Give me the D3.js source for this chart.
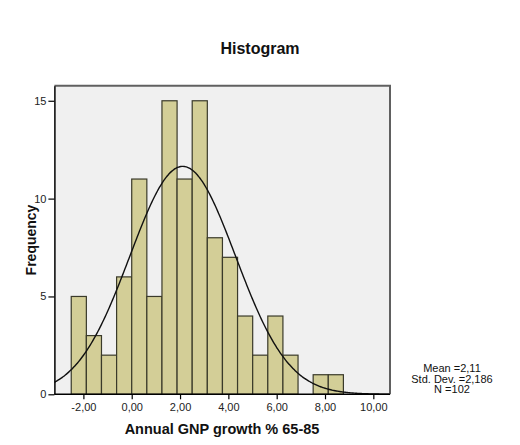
<!DOCTYPE html>
<html><head><meta charset="utf-8">
<script src="https://cdn.jsdelivr.net/npm/d3@7"></script>
<style>
html,body{margin:0;padding:0;background:#fff;}
svg{display:block;font-family:Arial,"Liberation Sans",sans-serif;}
</style></head>
<body><svg id="c" width="520" height="445"></svg>
<script>
// Data
const binCounts = [5, 3, 2, 6, 11, 5, 15, 11, 15, 8, 7, 4, 2, 4, 2, 0, 1, 1];
const binStart = -2.503;
const binWidth = 0.6258;
const xTicks = [-2, 0, 2, 4, 6, 8, 10];
const yTicks = [0, 5, 10, 15];
const statMean = 2.11, statSD = 2.186, statN = 102;
const statLines = ["Mean =2,11", "Std. Dev. =2,186", "N =102"];

const svg = d3.select("#c");
const L = 54.4, R = 390, T = 85.7, B = 394.3;
const x = d3.scaleLinear().domain([-3.2, 10.69]).range([L, R]);
const y = d3.scaleLinear().domain([0, 15.77]).range([B, T]);

const loc = d3.formatLocale({decimal: ",", thousands: ".", grouping: [3], currency: ["", ""], minus: "-"});
const fmt = loc.format(".2f");

// plot background
svg.append("rect").attr("x", L).attr("y", T).attr("width", R - L).attr("height", B - T)
  .attr("fill", "#f0f0f0");

// clip
svg.append("clipPath").attr("id", "clip").append("rect")
  .attr("x", L).attr("y", T).attr("width", R - L).attr("height", B - T);

// bars
const bins = binCounts.map((c, i) => ({x0: binStart + i * binWidth, x1: binStart + (i + 1) * binWidth, c}));
svg.append("g").selectAll("rect").data(bins.filter(d => d.c > 0)).join("rect")
  .attr("x", d => x(d.x0)).attr("width", d => x(d.x1) - x(d.x0))
  .attr("y", d => y(d.c)).attr("height", d => y(0) - y(d.c))
  .attr("fill", "#d3ce97").attr("stroke", "#3a3a2a").attr("stroke-width", 1.2);

// normal curve
const scale = statN * binWidth / (statSD * Math.sqrt(2 * Math.PI));
const pts = d3.range(0, 301).map(i => {
  const v = -3.2 + i * (10.69 + 3.2) / 300;
  return [v, scale * Math.exp(-0.5 * Math.pow((v - statMean) / statSD, 2))];
});
svg.append("path").attr("clip-path", "url(#clip)")
  .attr("d", d3.line().x(d => x(d[0])).y(d => y(d[1])).curve(d3.curveBasis)(pts))
  .attr("fill", "none").attr("stroke", "#111").attr("stroke-width", 1.4);

// frame top/right
svg.append("path").attr("d", `M${L},${T}H${R}V${B}`).attr("fill", "none")
  .attr("stroke", "#606060").attr("stroke-width", 2);

// axes
const xa = svg.append("g").attr("transform", `translate(0,${B})`)
  .call(d3.axisBottom(x).tickValues(xTicks).tickFormat(fmt).tickSize(5).tickSizeOuter(0));
const ya = svg.append("g").attr("transform", `translate(${L},0)`)
  .call(d3.axisLeft(y).tickValues(yTicks).tickFormat(d3.format("d")).tickSize(6).tickSizeOuter(0));
[xa, ya].forEach(a => {
  a.select(".domain").attr("stroke", "#000").attr("stroke-width", 1.5);
  a.selectAll(".tick line").attr("stroke", "#000").attr("stroke-width", 1.2);
  a.selectAll("text").attr("fill", "#222").style("font-size", "11px").style("font-family", "Arial, 'Liberation Sans', sans-serif");
});
xa.select(".domain").attr("d", `M${L},0H${R}`);
xa.selectAll(".tick text").attr("y", 9);
ya.selectAll(".tick text").attr("x", -8);

// titles
svg.append("text").attr("x", 260).attr("y", 54).attr("text-anchor", "middle")
  .style("font-size", "16px").style("font-weight", "bold").attr("fill", "#111").text("Histogram");
svg.append("text").attr("x", 222).attr("y", 434).attr("text-anchor", "middle")
  .style("font-size", "14.5px").style("font-weight", "bold").attr("fill", "#111").text("Annual GNP growth % 65-85");
svg.append("text").attr("transform", `translate(36,${(T + B) / 2}) rotate(-90)`).attr("text-anchor", "middle")
  .style("font-size", "14px").style("font-weight", "bold").attr("fill", "#111").text("Frequency");

// stats
svg.append("g").selectAll("text").data(statLines).join("text")
  .attr("x", 452).attr("y", (d, i) => 372 + i * 10.5).attr("text-anchor", "middle")
  .style("font-size", "11px").attr("fill", "#111").text(d => d);
</script></body></html>
